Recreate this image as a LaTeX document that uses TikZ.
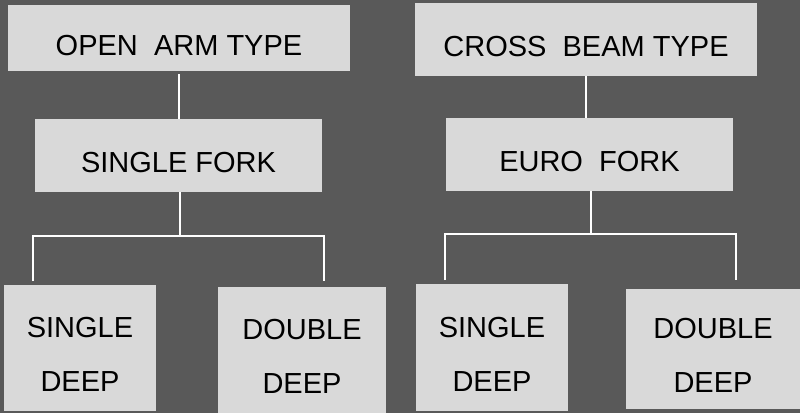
\documentclass[tikz,border=0pt]{standalone}
\usepackage{fontspec}
\setmainfont{Liberation Sans}
\definecolor{bggray}{HTML}{595959}
\definecolor{boxgray}{HTML}{D9D9D9}

\begin{document}
\begin{tikzpicture}[
    x=1pt, y=-1pt,
    every node/.style={font=\fontsize{29}{35}\selectfont, text=black},
    boxc/.style={fill=boxgray, inner sep=0pt, outer sep=0pt, text height=34.5pt, text depth=0pt},
    twoline/.style={text height=87.8pt},
    link/.style={draw=white, line width=1.8pt},
]

    \fill[bggray] (0, 0) rectangle (800, 413);
    \useasboundingbox (0, 0) rectangle (800, 413);

    \node[boxc, minimum width=342pt, minimum height=66pt] (open) at (179, 38) {OPEN\ \ ARM TYPE};
    \node[boxc, minimum width=342pt, minimum height=73pt] (cross) at (586, 39.5) {CROSS\ \ BEAM TYPE};

    \node[boxc, minimum width=287pt, minimum height=73pt] (sfork) at (178.5, 155.5) {SINGLE FORK};
    \node[boxc, minimum width=287pt, minimum height=73pt] (efork) at (589.5, 154.5) {EURO\ \ FORK};

    \node[boxc, twoline, minimum width=152pt, minimum height=126pt] (sdeepl) at (80, 348)
        {\begin{tabular}[b]{@{}c@{}}SINGLE\\[19pt]DEEP\end{tabular}};
    \node[boxc, twoline, minimum width=168pt, minimum height=126pt] (ddeepl) at (302, 350)
        {\begin{tabular}[b]{@{}c@{}}DOUBLE\\[19pt]DEEP\end{tabular}};
    \node[boxc, twoline, minimum width=152pt, minimum height=127pt] (sdeepr) at (492, 347.5)
        {\begin{tabular}[b]{@{}c@{}}SINGLE\\[19pt]DEEP\end{tabular}};
    \node[boxc, twoline, minimum width=174pt, minimum height=120pt] (ddeepr) at (713, 349)
        {\begin{tabular}[b]{@{}c@{}}DOUBLE\\[19pt]DEEP\end{tabular}};

    % branch points and line ends above the bottom boxes
    \coordinate (ljoin) at (180, 236);
    \coordinate (lleft) at (33, 281);
    \coordinate (lright) at (324, 281);
    \coordinate (rjoin) at (591, 234);
    \coordinate (rleft) at (445, 280);
    \coordinate (rright) at (736, 280);

    \draw[link, shorten <=3pt] (open.south) -- (open.south |- sfork.north);
    \draw[link] (cross.south) -- (cross.south |- efork.north);

    \draw[link] (sfork.south -| ljoin) -- (ljoin);
    \draw[link] (lleft) |- (ljoin) -| (lright);
    \draw[link] (efork.south -| rjoin) -- (rjoin);
    \draw[link] (rleft) |- (rjoin) -| (rright);

\end{tikzpicture}
\end{document}
